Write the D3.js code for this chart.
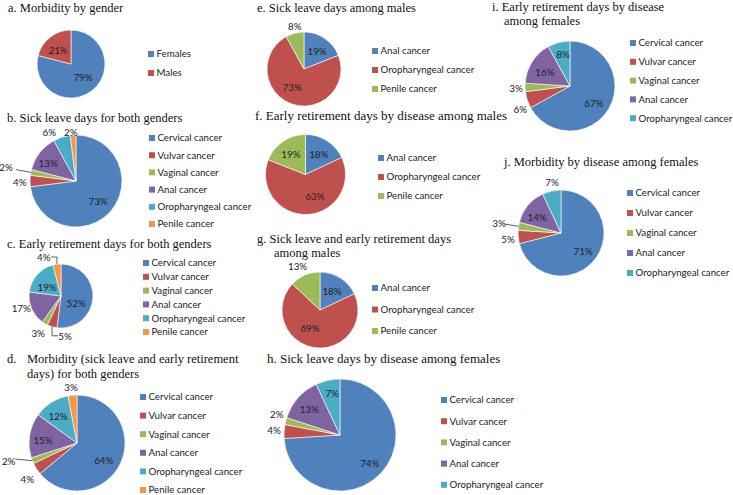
<!DOCTYPE html>
<html><head><meta charset="utf-8">
<script src="https://cdn.jsdelivr.net/npm/d3@7"></script>
<style>
html,body{margin:0;padding:0;background:#fff;}
svg{display:block;}
.title{font-family:"Liberation Serif","Times New Roman",serif;font-size:12.5px;fill:#111;}
.leg{font-family:Lato,"Open Sans",sans-serif;font-size:9.7px;fill:#222;}
.lab{font-family:Lato,"Open Sans",sans-serif;font-size:9.8px;fill:#222;}
</style></head><body>
<svg id="chart" width="733" height="495"></svg>
<script>
// ---- data ----
const genderLabels = ["Females", "Males"];
const morbidityByGender = [79, 21];

const diseasesBoth = ["Cervical cancer", "Vulvar cancer", "Vaginal cancer", "Anal cancer", "Oropharyngeal cancer", "Penile cancer"];
const sickLeaveBoth = [73, 4, 2, 13, 6, 2];
const earlyRetirementBoth = [52, 5, 3, 17, 19, 4];
const morbidityBoth = [64, 4, 2, 15, 12, 3];

const diseasesMales = ["Anal cancer", "Oropharyngeal cancer", "Penile cancer"];
const sickLeaveMales = [19, 73, 8];
const earlyRetirementMales = [18, 63, 19];
const morbidityMales = [18, 69, 13];

const diseasesFemales = ["Cervical cancer", "Vulvar cancer", "Vaginal cancer", "Anal cancer", "Oropharyngeal cancer"];
const sickLeaveFemales = [74, 4, 2, 13, 7];
const earlyRetirementFemales = [67, 6, 3, 16, 8];
const morbidityFemales = [71, 5, 3, 14, 7];

// ---- layout ----
const colors = ["#4F81BD", "#C0504D", "#9BBB59", "#8064A2", "#4BACC6", "#F79646"];

const panels = [
  {titles:[["a. Morbidity by gender",8,12]], cats:genderLabels, vals:morbidityByGender,
   cx:71, cy:64, r:34, leg:{x:148, y:54, step:19},
   lab:[[0.52,-5],[0.56,-5]]},
  {titles:[["b. Sick leave days for both genders",7,121.5]], cats:diseasesBoth, vals:sickLeaveBoth,
   cx:76, cy:181, r:46, leg:{x:149, y:138, step:17.2},
   lab:[[0.65,1],[1.22,-1],[1.55,0,"line"],[0.72,-5],[1.2,-11],[1.07,-2.5]]},
  {titles:[["c. Early retirement days for both genders",7,248]], cats:diseasesBoth, vals:earlyRetirementBoth,
   cx:61, cy:296, r:32, leg:{x:143, y:263, step:13.8},
   lab:[[0.52,21],[1.25,-22,"elbow"],[1.36,1],[1.3,6],[0.52,-8],[1.33,-16.5,"elbow"]]},
  {titles:[["d.",7,363],["Morbidity (sick leave and early retirement",27,363],["days) for both genders",27,378]],
   cats:diseasesBoth, vals:morbidityBoth,
   cx:77, cy:443, r:48, leg:{x:140, y:397, step:18.6},
   lab:[[0.66,7],[1.28,-3.6],[1.47,7,"line"],[0.71,-4],[0.69,-2.6],[1.17,-0.6]]},
  {titles:[["e. Sick leave days among males",257,12]], cats:diseasesMales, vals:sickLeaveMales,
   cx:304, cy:69, r:37, leg:{x:372, y:51, step:19},
   lab:[[0.6,2],[0.58,13.7],[1.19,2.4]]},
  {titles:[["f. Early retirement days by disease among males",255,120]], size:13, cats:diseasesMales, vals:earlyRetirementMales,
   cx:305.5, cy:174.5, r:40, leg:{x:378, y:158, step:19},
   lab:[[0.61,0.6],[0.59,-22],[0.63,-1]]},
  {titles:[["g. Sick leave and early retirement days",257,243],["among males",274,257]], cats:diseasesMales, vals:morbidityMales,
   cx:320, cy:310, r:38, leg:{x:372, y:288, step:21.5},
   lab:[[0.59,0],[0.54,20],[1.3,-3.6]]},
  {titles:[["h. Sick leave days by disease among females",267,363]], size:13, cats:diseasesFemales, vals:sickLeaveFemales,
   cx:340, cy:435, r:56, leg:{x:441, y:400, step:21.2},
   lab:[[0.73,0],[1.18,0.4],[1.19,4],[0.72,-1],[0.76,2]]},
  {titles:[["i. Early retirement days by disease",492,11],["among females",504,25]], cats:diseasesFemales, vals:earlyRetirementFemales,
   cx:570, cy:86, r:45, leg:{x:630, y:43, step:18.8},
   lab:[[0.65,4.4],[1.22,-7],[1.2,-1],[0.63,-4.5],[0.73,2]]},
  {titles:[["j. Morbidity by disease among females",504,166]], cats:diseasesFemales, vals:morbidityFemales,
   cx:561, cy:233, r:43, leg:{x:627, y:193, step:20},
   lab:[[0.66,1],[1.24,-1],[1.46,0,"line"],[0.67,-5.6],[1.2,2.6]]}
];

const svg = d3.select("#chart");
const pie = d3.pie().sort(null).value(d => d.v);

function polar(cx, cy, R, a) { return [cx + R * Math.sin(a), cy - R * Math.cos(a)]; }

panels.forEach(p => {
  const g = svg.append("g");
  p.titles.forEach(t => g.append("text").attr("class","title")
    .style("font-size", (p.size || 12.5) + "px")
    .attr("x",t[1]).attr("y",t[2]).text(t[0]));

  const data = p.cats.map((c, i) => ({c, v: p.vals[i]}));
  const col = d3.scaleOrdinal().domain(p.cats).range(colors);
  const arcs = pie(data);
  const arc = d3.arc().innerRadius(0).outerRadius(p.r);

  const pg = g.append("g").attr("transform", `translate(${p.cx},${p.cy})`);
  pg.selectAll("path").data(arcs).join("path")
    .attr("d", arc).attr("fill", d => col(d.data.c))
    .attr("stroke", "#fff").attr("stroke-width", 0.6);

  arcs.forEach((d, i) => {
    const cfg = p.lab[i];
    const mid = (d.startAngle + d.endAngle) / 2;
    const la = mid + cfg[1] * Math.PI / 180;
    const [lx, ly] = polar(p.cx, p.cy, p.r * cfg[0], la);
    g.append("text").attr("class","lab").attr("x",lx).attr("y",ly)
      .attr("text-anchor","middle").attr("dy","0.38em")
      .text(d.data.v + "%");
    if (cfg[2] === "line") {
      const [x1, y1] = polar(p.cx, p.cy, p.r, mid);
      const [x2, y2] = polar(p.cx, p.cy, p.r * 1.33, la);
      g.append("line").attr("x1",x1).attr("y1",y1).attr("x2",x2).attr("y2",y2)
        .attr("stroke","#333").attr("stroke-width",0.8);
    } else if (cfg[2] === "elbow") {
      const [x1, y1] = polar(p.cx, p.cy, p.r, mid);
      const ex = lx < x1 ? lx + 7 : lx - 7;
      g.append("path").attr("d", `M${x1},${y1}V${ly}H${ex}`)
        .attr("fill","none").attr("stroke","#333").attr("stroke-width",0.8);
    }
  });

  const lg = g.append("g");
  p.cats.forEach((c, i) => {
    const y = p.leg.y + i * p.leg.step;
    lg.append("rect").attr("x", p.leg.x).attr("y", y - 3).attr("width", 6).attr("height", 6).attr("fill", col(c));
    lg.append("text").attr("class","leg").attr("x", p.leg.x + 8.5).attr("y", y).attr("dy","0.35em").text(c);
  });
});
</script>
</body></html>
